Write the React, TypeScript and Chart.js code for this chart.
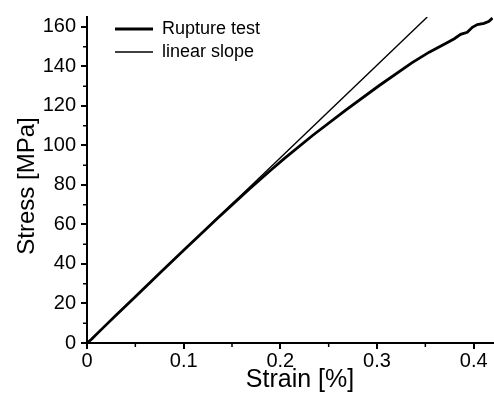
import React, { useEffect, useRef } from "react";
import { Chart, registerables } from "chart.js";

Chart.register(...registerables);

const strain = [0, 0.005, 0.01, 0.02, 0.03, 0.05, 0.077, 0.1, 0.12, 0.135, 0.15, 0.168, 0.19, 0.204, 0.233, 0.268, 0.302, 0.336, 0.354, 0.371, 0.38, 0.3865, 0.3934, 0.3986, 0.4038, 0.4107, 0.4159, 0.4194];
const stress = [0, 2, 4.5, 9.3, 14, 23.4, 36.2, 46.9, 56.2, 63.1, 69.9, 77.9, 87.4, 93.3, 104.9, 118.0, 130.2, 141.8, 147.2, 151.6, 154, 156.2, 157.3, 159.8, 161.2, 161.8, 162.8, 164.5];

const linearStrain = [0, 0.352];
const linearStress = [0, 165];

const xMinorTicks = [0.05, 0.15, 0.25, 0.35];
const yMinorTicks = [10, 30, 50, 70, 90, 110, 130, 150];

const FONT = "'Liberation Sans', Arial, Helvetica, sans-serif";

const fmt = (v: any) => String(+Number(v).toFixed(2));

export default function App() {
  const ref = useRef<HTMLCanvasElement | null>(null);

  useEffect(() => {
    if (!ref.current) return;
    Chart.defaults.font.family = FONT;
    Chart.defaults.color = "#000";

    const minorTicks = {
      id: "minorTicks",
      afterDraw(chart: any) {
        const { ctx, scales, chartArea } = chart;
        const x = scales.x;
        const y = scales.y;
        ctx.save();
        ctx.strokeStyle = "#000";
        ctx.lineWidth = 1.5;
        ctx.beginPath();
        xMinorTicks.forEach((v) => {
          const px = x.getPixelForValue(v);
          ctx.moveTo(px, chartArea.bottom);
          ctx.lineTo(px, chartArea.bottom + 4);
        });
        yMinorTicks.forEach((v) => {
          const py = y.getPixelForValue(v);
          ctx.moveTo(chartArea.left, py);
          ctx.lineTo(chartArea.left - 4, py);
        });
        ctx.stroke();
        ctx.restore();
      },
    };

    const shiftTitle = (scale: any, dx: number, dy: number) => {
      if (!scale || scale.__shifted) return;
      const orig = scale.drawTitle.bind(scale);
      scale.drawTitle = function () {
        const c = scale.ctx;
        c.save();
        c.translate(dx, dy);
        orig();
        c.restore();
      };
      scale.__shifted = true;
    };

    const layoutTweaks = {
      id: "layoutTweaks",
      afterLayout(chart: any) {
        const lg = chart.legend;
        if (lg) {
          lg.left = chart.chartArea.left + 23;
          lg.top = chart.chartArea.top - 2;
        }
        shiftTitle(chart.scales.x, 10, 0);
        shiftTitle(chart.scales.y, 0, 6);
      },
    };

    const chart = new Chart(ref.current, {
      type: "line",
      data: {
        datasets: [
          {
            label: "Rupture test",
            data: strain.map((x, i) => ({ x, y: stress[i] })),
            borderColor: "#000",
            backgroundColor: "#000",
            borderWidth: 2.8,
            pointRadius: 0,
            tension: 0,
          },
          {
            label: "linear slope",
            data: linearStrain.map((x, i) => ({ x, y: linearStress[i] })),
            borderColor: "#000",
            backgroundColor: "#000",
            borderWidth: 1.4,
            pointRadius: 0,
            tension: 0,
          },
        ],
      },
      options: {
        responsive: false,
        devicePixelRatio: 1,
        animation: false,
        layout: { padding: { top: 13, right: 1, left: 0, bottom: 0 }, autoPadding: false } as any,
        scales: {
          x: {
            type: "linear",
            position: "bottom",
            min: 0,
            max: 0.42,
            afterFit: (s: any) => {
              s.height = 51;
            },
            ticks: {
              stepSize: 0.1,
              includeBounds: false,
              autoSkip: false,
              maxRotation: 0,
              padding: 0,
              color: "#000",
              font: { size: 20 },
              callback: (v: any) => fmt(v),
            },
            grid: { drawOnChartArea: false, tickLength: 6, lineWidth: 2, color: "#000" },
            border: { color: "#000", width: 2 },
            title: {
              display: true,
              text: "Strain [%]",
              color: "#000",
              font: { size: 25, lineHeight: 1 },
              padding: { top: 0, bottom: 1 },
            },
          },
          y: {
            type: "linear",
            min: 0,
            max: 165,
            afterFit: (s: any) => {
              s.width = 87;
            },
            ticks: {
              stepSize: 20,
              includeBounds: false,
              autoSkip: false,
              padding: 5,
              color: "#000",
              font: { size: 20 },
              callback: (v: any) => fmt(v),
            },
            grid: { drawOnChartArea: false, tickLength: 6, lineWidth: 2, color: "#000" },
            border: { color: "#000", width: 2 },
            title: {
              display: true,
              text: "Stress [MPa]",
              color: "#000",
              font: { size: 24, lineHeight: 1 },
              padding: { top: 15, bottom: 0 },
            },
          },
        },
        plugins: {
          legend: {
            position: "chartArea" as any,
            align: "start",
            labels: {
              usePointStyle: true,
              pointStyle: "line",
              pointStyleWidth: 38,
              boxHeight: 18,
              padding: 5,
              color: "#000",
              font: { size: 18 },
            },
          },
          tooltip: { enabled: false },
        },
      },
      plugins: [minorTicks, layoutTweaks],
    });

    return () => chart.destroy();
  }, []);

  return (
    <div style={{ position: "absolute", left: 0, top: 0, width: 494, height: 394, background: "#fff" }}>
      <canvas ref={ref} width={494} height={394} style={{ display: "block" }} />
    </div>
  );
}
